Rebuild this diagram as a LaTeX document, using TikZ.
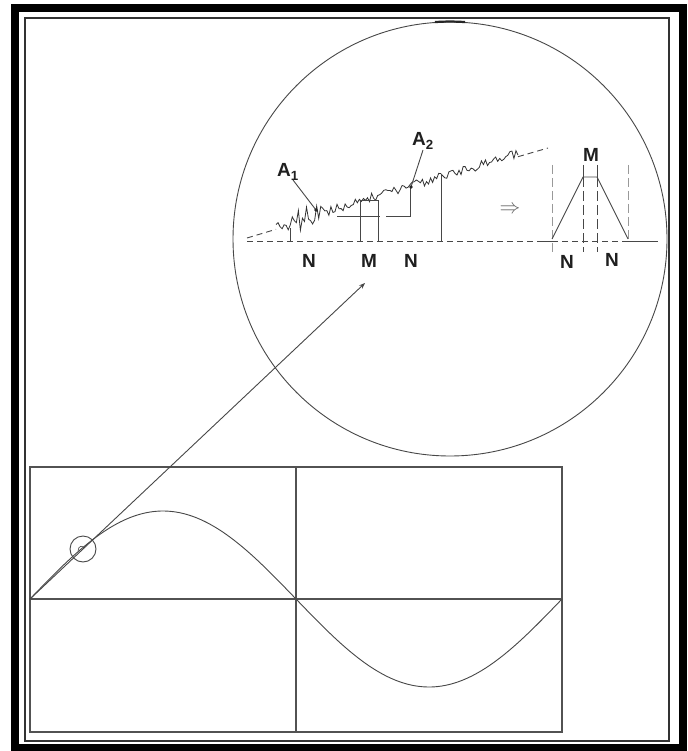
\documentclass[tikz,border=0pt]{standalone}
\usepackage{fontspec}
\setmainfont{Liberation Sans}
\usetikzlibrary{arrows.meta}
\begin{document}
\begin{tikzpicture}[x=1pt,y=-1pt,
  ln/.style={draw=black!72, line width=0.9pt},
  chartln/.style={draw=black!68, line width=1.6pt},
  dashln/.style={ln, dash pattern=on 6pt off 4pt},
  gdash/.style={draw=black!40, line width=1pt, dash pattern=on 9pt off 4pt},
  ddash/.style={ln, dash pattern=on 10pt off 4pt},
  lbl/.style={font=\fontsize{19}{19}\selectfont\bfseries, text=black!88, inner sep=0pt},
  ring/.style={circle, draw=black!72, line width=0.9pt, inner sep=0pt},
]
\useasboundingbox (0,0) rectangle (687,751);
\fill[white] (0,0) rectangle (687,751);
% frames
\draw[line width=8pt] (15,8) rectangle (683,748);
\draw[draw=black!80, line width=1.5pt] (25,18) rectangle (669,741);
% chart
\draw[chartln] (30,467) rectangle (562,732);
\draw[chartln] (30,599) -- (562,599);
\draw[chartln] (296,467) -- (296,732);
\draw[ln] plot[domain=30:562, samples=160] (\x, {599 - 88*sin((\x-30)/532*360)});
% circles
\node[ring, minimum size=434pt] (bc) at (450,239) {};
\draw[line width=2.2pt, black!85] (bc.94) arc[start angle=94, end angle=86, radius=217pt];
\node[ring, minimum size=26pt] (sc) at (83,549) {};
\draw[ln, line width=0.6pt] (78,551) .. controls (78,545) and (84,545) .. (84,549);
% connector
\coordinate (origin) at (30,599);
\coordinate (tip) at (365,283);
\draw[ln, -{Stealth[length=6pt,width=4.5pt]}] (origin) -- (tip);
% baseline
\draw[dashln] (247,241) -- (552,241);
\draw[ln] (538,241) -- (552,241);
\draw[dashln] (552,241) -- (628,241);
\draw[ln] (628,241) -- (658,241);
% trend line ends
\draw[dashln] (247,238) -- (276,229.3);
\draw[dashln] (518,156.7) -- (548,148);
% noisy signal
\pgfmathsetseed{3}
\draw[ln, line width=0.8pt, draw=black!80] plot[domain=276:518, samples=120]
  (\x, {238-0.3*(\x-247) - 3 - (4.5+9*max(0,1-abs(\x-305)/25))*rand});
% steps
\draw[ln] (290,241) -- (290,228);
\draw[ln] (360,241) -- (360,200) -- (378,200) -- (378,241);
\draw[ln] (337,216) -- (380,216);
\draw[ln] (386,216) -- (410,216) -- (410,188);
\draw[ln] (441,241) -- (441,174);
% A labels and leaders
\node[lbl, anchor=base west] (a1) at (277,177) {A\textsubscript{1}};
\node[lbl, anchor=base west] (a2) at (412,146) {A\textsubscript{2}};
\coordinate (a1s) at (293,180);
\coordinate (a1p) at (316,210);
\coordinate (a2s) at (423,150);
\coordinate (a2p) at (411,187);
\draw[ln] (a1s) -- (a1p);
\draw[ln] (a2s) -- (a2p);
\fill[black!85] (a1p) circle (1.8);
\fill[black!85] (a2p) circle (1.8);
% N M labels
\node[lbl] (n1) at (309,261) {N};
\node[lbl] (m1) at (369,261) {M};
\node[lbl] (n2) at (411,261) {N};
% implies
\node[inner sep=0pt, text=black!60, font=\fontsize{20}{20}\selectfont] (imp) at (510,210) {$\Rightarrow$};
% triangle
\draw[gdash] (552,165) -- (552,252);
\draw[gdash] (628,165) -- (628,242);
\draw[ln] (552,239) -- (583,177) -- (597,177) -- (628,239);
\draw[ln] (583,165) -- (583,177);
\draw[ln] (597,165) -- (597,177);
\draw[ddash] (583,177) -- (583,252);
\draw[ddash] (597,177) -- (597,252);
\node[lbl] (m2) at (591,155) {M};
\node[lbl] (n3) at (567,262) {N};
\node[lbl] (n4) at (612,260) {N};
\end{tikzpicture}
\end{document}
